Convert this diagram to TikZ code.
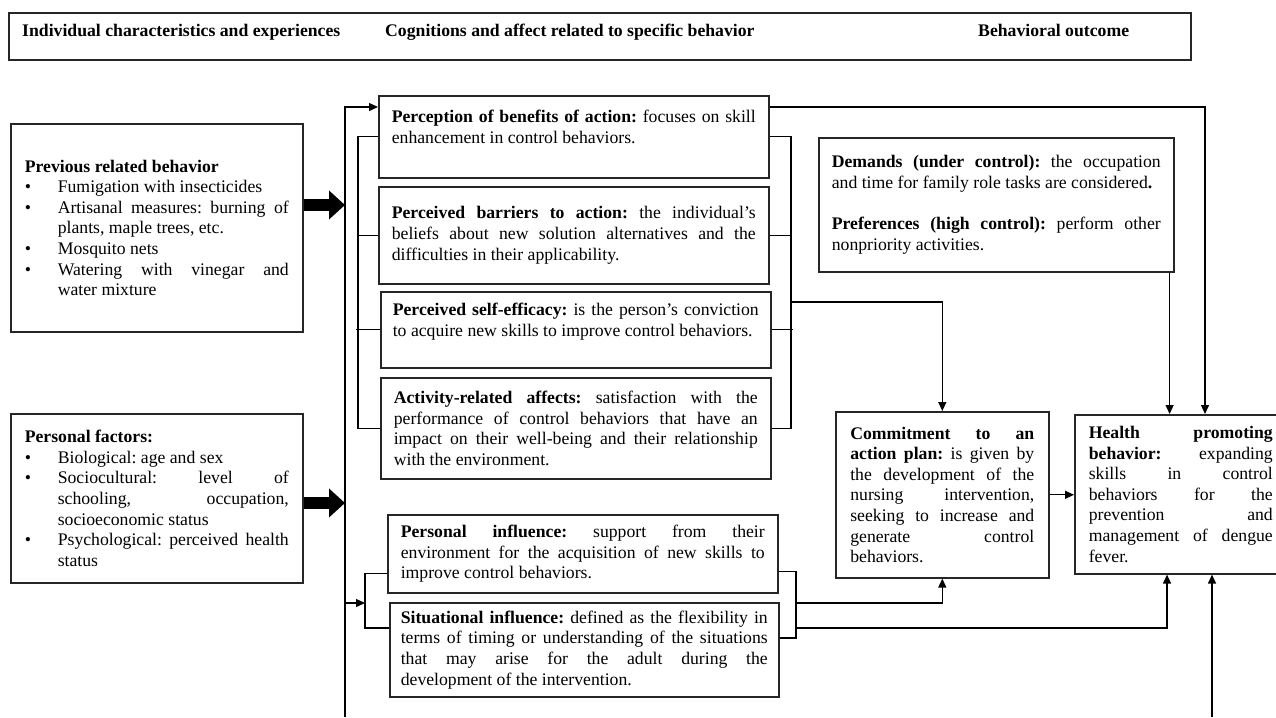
\documentclass[tikz,border=0pt]{standalone}
\usepackage{fontspec}
\setmainfont{Liberation Serif}
\usepackage{tikz}
\usetikzlibrary{arrows.meta, positioning, calc}

\tolerance=10000
\hyphenpenalty=10000
\frenchspacing
\newcommand{\bitem}{\par\noindent\hangindent=33pt\hangafter=1\makebox[33pt][l]{\textbullet}\ignorespaces}

\begin{document}
\begin{tikzpicture}[x=1pt, y=-1pt, font=\fontsize{17.7}{20.6}\selectfont\frenchspacing, >={Triangle[length=9pt,width=8pt]},
        box/.style={draw=black!85, line width=1.6pt, align=justify, anchor=north west, inner xsep=14pt, inner ysep=0pt},
        conn/.style={line width=1.3pt},
        bigarrow/.style={line width=12pt, -{Triangle[length=16pt,width=28pt]}}]
        \useasboundingbox (0,0) rectangle (1276,717);

        \node[box, minimum width=1182pt, minimum height=47pt] (hdr) at (8,12) {};
        \node[anchor=base west, inner sep=0pt] (hindiv) at (22,37) {\textbf{Individual characteristics and experiences}};
        \node[anchor=base west, inner sep=0pt] (hcogn) at (385,37) {\textbf{Cognitions and affect related to specific behavior}};
        \node[anchor=base west, inner sep=0pt] (hout) at (978,37) {\textbf{Behavioral outcome}};

        \node[box, text width=264pt, minimum width=292pt, minimum height=208pt] (prev) at (10,123) {\textbf{Previous related behavior}\bitem Fumigation with insecticides\bitem Artisanal measures: burning of\linebreak plants, maple trees, etc.\bitem Mosquito nets\bitem Watering with vinegar and\linebreak water mixture\par\vspace{12pt}};
        \node[box, text width=264pt, minimum width=292pt, minimum height=169pt] (pers) at (10,413) {\textbf{Personal factors:}\bitem Biological: age and sex\bitem Sociocultural: level of\linebreak schooling, occupation,\linebreak socioeconomic status\bitem Psychological: perceived health\linebreak status\par};

        \node[box, text width=364pt, inner xsep=13pt, minimum width=390pt, minimum height=82pt] (perc) at (378,95) {\textbf{Perception of benefits of action:} focuses on skill\linebreak enhancement in control behaviors.\par\mbox{}};
        \node[box, text width=364pt, inner xsep=13pt, minimum width=390pt, minimum height=97pt] (barr) at (378,186) {\textbf{Perceived barriers to action:} the individual's\linebreak beliefs about new solution alternatives and the\linebreak difficulties in their applicability.};
        \node[box, text width=366pt, inner xsep=12pt, minimum width=390pt, minimum height=76pt] (self) at (380,291) {\textbf{Perceived self-efficacy:} is the person's conviction\linebreak to acquire new skills to improve control behaviors.\par\mbox{}};
        \node[box, text width=364pt, inner xsep=13pt, minimum width=390pt, minimum height=101pt] (actv) at (380,377) {\textbf{Activity-related affects:} satisfaction with the\linebreak performance of control behaviors that have an\linebreak impact on their well-being and their relationship\linebreak with the environment.};
        \node[box, text width=364pt, inner xsep=13pt, minimum width=390pt, minimum height=78pt] (infl) at (387,514) {\textbf{Personal influence:} support from their\linebreak environment for the acquisition of new skills to\linebreak improve control behaviors.};
        \node[box, text width=367pt, inner xsep=11pt, minimum width=389pt, minimum height=94pt] (situ) at (389,602) {\textbf{Situational influence:} defined as the flexibility in\linebreak terms of timing or understanding of the situations\linebreak that may arise for the adult during the\linebreak development of the intervention.};

        \node[box, text width=329pt, inner xsep=13pt, minimum width=355pt, minimum height=134pt] (demd) at (818,137) {\textbf{Demands (under control):} the occupation\linebreak and time for family role tasks are considered\textbf{.}\par\mbox{}\par\textbf{Preferences (high control):} perform other\linebreak nonpriority activities.};
        \node[box, text width=184pt, minimum width=213pt, minimum height=166pt] (comm) at (835,411) {\textbf{Commitment to an\linebreak action plan:} is given by\linebreak the development of the\linebreak nursing intervention,\linebreak seeking to increase and\linebreak generate control\linebreak behaviors.};
        \node[box, text width=184pt, minimum width=212pt, minimum height=159pt] (hlth) at (1074,414) {\textbf{Health promoting\linebreak behavior:} expanding\linebreak skills in control\linebreak behaviors for the\linebreak prevention and\linebreak management of dengue\linebreak fever.};

        \coordinate (mbot) at (345,717);
        \coordinate (jprev) at (345,205);
        \coordinate (jpers) at (345,503);
        \coordinate (jinfl) at (345,603);
        \coordinate (cogL) at (358,0);
        \coordinate (cogR) at (791,0);
        \coordinate (cogout) at (791,302);
        \coordinate (infL) at (365,0);
        \coordinate (infR) at (796,0);
        \coordinate (infout) at (796,628);
        \coordinate (topx) at (1205,0);
        \coordinate (hlx) at (1167,0);
        \coordinate (hbot) at (1212,717);

        \draw[conn, ->] (mbot) |- ([yshift=-12pt]perc.north west);
        \draw[bigarrow] (prev.east |- jprev) -- (jprev);
        \draw[bigarrow] (pers.east |- jpers) -- (jpers);

        \draw[conn] (perc.west) -- (perc.west -| cogL) -- (actv.west -| cogL) -- (actv.west);
        \draw[conn] (barr.west) -- (barr.west -| cogL);
        \draw[conn] (self.west) -- ([xshift=-2pt]self.west -| cogL);
        \draw[conn] (perc.east) -- (perc.east -| cogR) -- (actv.east -| cogR) -- (actv.east);
        \draw[conn] (barr.east) -- (barr.east -| cogR);
        \draw[conn] (self.east) -- ([xshift=2pt]self.east -| cogR);
        \draw[conn, ->] (cogout) -| (comm.north);

        \draw[conn, ->] ([yshift=-12pt]perc.north east) -| (hlth.north -| topx);
        \draw[conn, ->] ([xshift=-5pt]demd.south east) -- ([xshift=-5pt]demd.south east |- hlth.north);
        \draw[conn, ->] (comm.east) -- (comm.east -| hlth.west);

        \draw[conn, ->] (jinfl) -- (jinfl -| infL);
        \draw[conn] ([yshift=20pt]infl.south west) -| (infL |- jinfl) |- ([yshift=-26pt]situ.north west);
        \draw[conn] ([yshift=22pt]infl.south east) -| (infR |- jinfl) |- ([yshift=-36pt]situ.north east);
        \draw[conn, ->] (infR |- jinfl) -| (comm.south);
        \draw[conn, ->] (infout) -| (hlth.south -| hlx);
        \draw[conn, ->] (hbot) -- (hbot |- hlth.south);
    \end{tikzpicture}
\end{document}
